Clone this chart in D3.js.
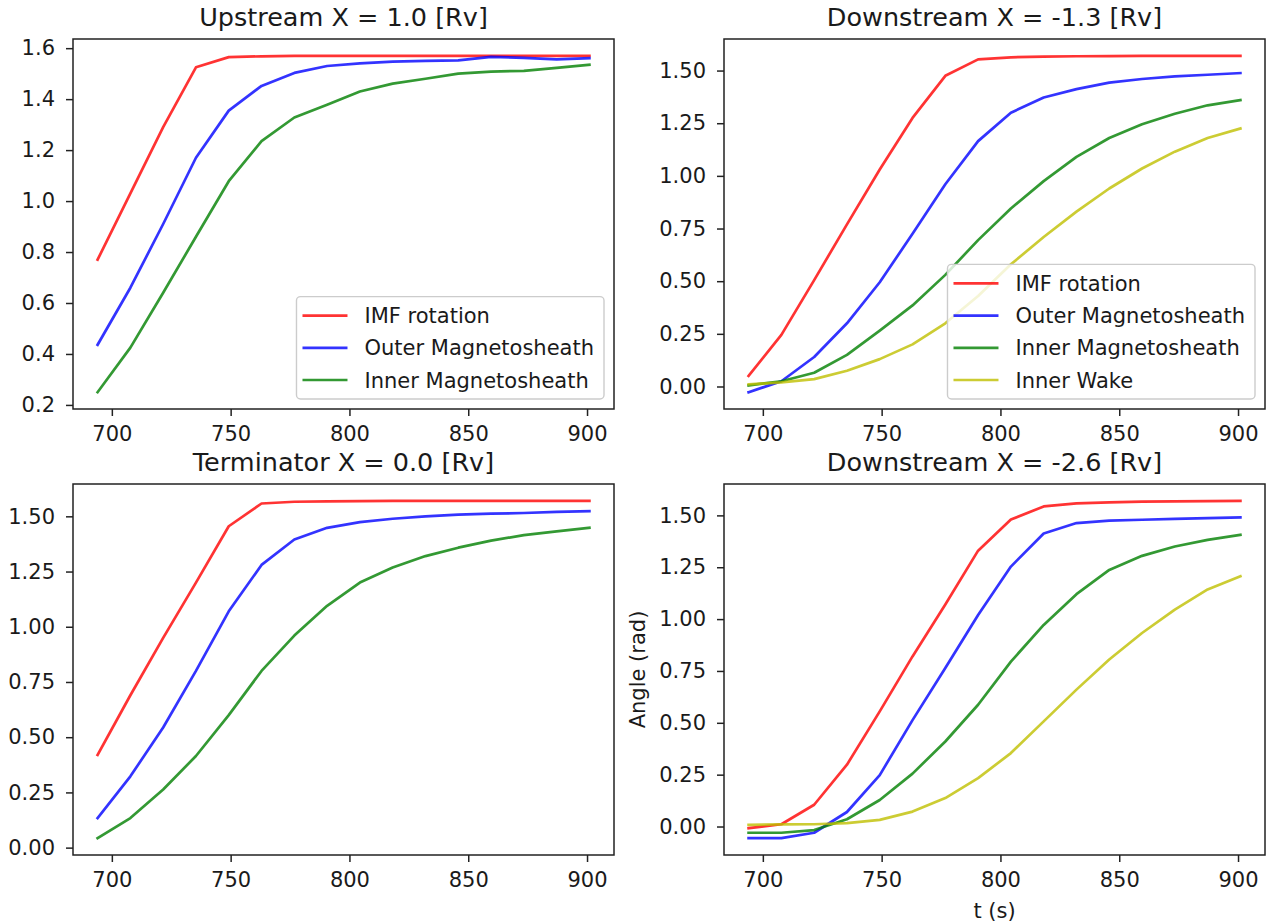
<!DOCTYPE html>
<html><head><meta charset="utf-8">
<script src="https://cdn.jsdelivr.net/npm/d3@7"></script>
<style>
body{margin:0;background:#fff}
svg{display:block}
text{font-family:"DejaVu Sans",sans-serif;fill:#1a1a1a}
</style>
</head><body>
<svg id="chart" width="1266" height="923"></svg>
<script>
// ---------------- data ----------------
const times = [694, 707.8, 721.6, 735.4, 749.2, 763, 776.8, 790.6, 804.4, 818.2, 832, 845.8, 859.6, 873.4, 887.2, 901];

const seriesNames = ["IMF rotation", "Outer Magnetosheath", "Inner Magnetosheath", "Inner Wake"];
const seriesColors = ["#ff0000", "#0000ff", "#008000", "#bfbf00"];

const panelTitles = ["Upstream X = 1.0 [Rv]", "Downstream X = -1.3 [Rv]", "Terminator X = 0.0 [Rv]", "Downstream X = -2.6 [Rv]"];

// Upstream X = 1.0
const upIMF   = [0.77, 1.03, 1.29, 1.525, 1.565, 1.568, 1.57, 1.57, 1.57, 1.57, 1.57, 1.57, 1.57, 1.57, 1.57, 1.57];
const upOuter = [0.436, 0.66, 0.91, 1.17, 1.355, 1.452, 1.503, 1.53, 1.54, 1.547, 1.55, 1.552, 1.566, 1.562, 1.556, 1.561];
const upInner = [0.25, 0.425, 0.64, 0.86, 1.078, 1.235, 1.328, 1.378, 1.43, 1.461, 1.48, 1.5, 1.508, 1.511, 1.523, 1.535];

// Downstream X = -1.3
const d1IMF   = [0.05, 0.245, 0.505, 0.77, 1.03, 1.275, 1.475, 1.553, 1.563, 1.566, 1.568, 1.569, 1.57, 1.57, 1.57, 1.57];
const d1Outer = [-0.027, 0.025, 0.14, 0.3, 0.495, 0.725, 0.96, 1.165, 1.3, 1.372, 1.412, 1.443, 1.46, 1.472, 1.48, 1.488];
const d1Inner = [0.005, 0.025, 0.065, 0.15, 0.265, 0.385, 0.53, 0.695, 0.845, 0.975, 1.09, 1.18, 1.245, 1.295, 1.335, 1.36];
const d1Wake  = [0.01, 0.02, 0.035, 0.075, 0.13, 0.2, 0.3, 0.43, 0.58, 0.71, 0.83, 0.94, 1.035, 1.115, 1.18, 1.225];

// Terminator X = 0.0
const tIMF   = [0.42, 0.69, 0.95, 1.2, 1.455, 1.558, 1.566, 1.568, 1.569, 1.57, 1.57, 1.57, 1.57, 1.57, 1.57, 1.57];
const tOuter = [0.134, 0.323, 0.544, 0.8, 1.07, 1.28, 1.395, 1.448, 1.474, 1.489, 1.5, 1.508, 1.512, 1.515, 1.52, 1.523];
const tInner = [0.043, 0.134, 0.263, 0.415, 0.6, 0.8, 0.96, 1.095, 1.2, 1.268, 1.32, 1.358, 1.39, 1.415, 1.432, 1.448];

// Downstream X = -2.6
const d2IMF   = [-0.008, 0.011, 0.105, 0.298, 0.555, 0.82, 1.07, 1.33, 1.48, 1.543, 1.558, 1.563, 1.566, 1.568, 1.569, 1.57];
const d2Outer = [-0.056, -0.056, -0.03, 0.07, 0.248, 0.513, 0.764, 1.02, 1.253, 1.413, 1.463, 1.475, 1.479, 1.483, 1.487, 1.49];
const d2Inner = [-0.03, -0.03, -0.017, 0.035, 0.128, 0.255, 0.41, 0.587, 0.795, 0.972, 1.12, 1.237, 1.305, 1.35, 1.382, 1.406];
const d2Wake  = [0.008, 0.01, 0.011, 0.016, 0.032, 0.072, 0.137, 0.233, 0.354, 0.507, 0.66, 0.805, 0.933, 1.046, 1.143, 1.207];

const xTickValues = [700, 750, 800, 850, 900];
const yTicksUpstream = [0.2, 0.4, 0.6, 0.8, 1.0, 1.2, 1.4, 1.6];
const yTicksOther = [0.0, 0.25, 0.5, 0.75, 1.0, 1.25, 1.5];

// ---------------- layout ----------------
const FS = 21, TFS = 25.5;
const panels = [
  {title: panelTitles[0], box: [73, 39, 614, 409], series: [upIMF, upOuter, upInner], yTicks: yTicksUpstream, fmt: d3.format(".1f"), legend: true},
  {title: panelTitles[1], box: [724, 39, 1265, 409], series: [d1IMF, d1Outer, d1Inner, d1Wake], yTicks: yTicksOther, fmt: d3.format(".2f"), legend: true},
  {title: panelTitles[2], box: [73, 484, 614, 855], series: [tIMF, tOuter, tInner], yTicks: yTicksOther, fmt: d3.format(".2f"), legend: false},
  {title: panelTitles[3], box: [724, 484, 1265, 855], series: [d2IMF, d2Outer, d2Inner, d2Wake], yTicks: yTicksOther, fmt: d3.format(".2f"), legend: false, xlabel: "t (s)", ylabel: "Angle (rad)"}
];

const svg = d3.select("#chart");

function padded(ext) {
  const m = (ext[1] - ext[0]) * 0.05;
  return [ext[0] - m, ext[1] + m];
}

panels.forEach((p, pi) => {
  const [x0, y0, x1, y1] = p.box;
  const x = d3.scaleLinear().domain(padded(d3.extent(times))).range([x0, x1]);
  const allVals = p.series.flat();
  const y = d3.scaleLinear().domain(padded(d3.extent(allVals))).range([y1, y0]);

  const g = svg.append("g");
  const clipId = "clip" + pi;
  svg.append("clipPath").attr("id", clipId).append("rect")
    .attr("x", x0).attr("y", y0).attr("width", x1 - x0).attr("height", y1 - y0);

  const line = d3.line().x((d, i) => x(times[i])).y(d => y(d));
  const lg = g.append("g").attr("clip-path", `url(#${clipId})`);
  p.series.forEach((vals, si) => {
    lg.append("path").datum(vals)
      .attr("d", line)
      .attr("fill", "none")
      .attr("stroke", seriesColors[si])
      .attr("stroke-opacity", 0.8)
      .attr("stroke-width", 2.7)
      .attr("stroke-linejoin", "round")
      .attr("stroke-linecap", "square");
  });

  // axes
  const xa = g.append("g").attr("transform", `translate(0,${y1})`)
    .call(d3.axisBottom(x).tickValues(xTickValues).tickSize(7).tickPadding(10.5).tickFormat(d3.format("d")));
  const ya = g.append("g").attr("transform", `translate(${x0},0)`)
    .call(d3.axisLeft(y).tickValues(p.yTicks).tickSize(7).tickPadding(11).tickFormat(p.fmt));
  [xa, ya].forEach(a => {
    a.select(".domain").remove();
    a.selectAll(".tick line").attr("stroke", "#222").attr("stroke-width", 1.5);
    a.selectAll(".tick text").attr("font-size", FS).attr("fill", "#222").style("font-family", '"DejaVu Sans",sans-serif');
  });

  // frame
  g.append("rect").attr("x", x0).attr("y", y0).attr("width", x1 - x0).attr("height", y1 - y0)
    .attr("fill", "none").attr("stroke", "#222").attr("stroke-width", 1.5);

  // title
  g.append("text").attr("x", (x0 + x1) / 2).attr("y", y0 - 12.6)
    .attr("text-anchor", "middle").attr("font-size", TFS).text(p.title);

  if (p.xlabel) {
    g.append("text").attr("x", (x0 + x1) / 2).attr("y", y1 + 63)
      .attr("text-anchor", "middle").attr("font-size", FS).text(p.xlabel);
  }
  if (p.ylabel) {
    g.append("text").attr("transform", `translate(${x0 - 79},${(y0 + y1) / 2}) rotate(-90)`)
      .attr("text-anchor", "middle").attr("font-size", FS).text(p.ylabel);
  }

  // legend
  if (p.legend) {
    const n = p.series.length;
    const lgG = g.append("g");
    const tmp = lgG.append("g");
    let maxW = 0;
    for (let i = 0; i < n; i++) {
      const t = tmp.append("text").attr("font-size", FS).text(seriesNames[i]);
      maxW = Math.max(maxW, t.node().getComputedTextLength());
    }
    tmp.remove();
    const bw = 68 + maxW + 10;
    const bh = 19 * 2 + (n - 1) * 32.2;
    const bx = x1 - 10 - bw, by = y1 - 10 - bh;
    lgG.append("rect").attr("x", bx).attr("y", by).attr("width", bw).attr("height", bh)
      .attr("rx", 4).attr("fill", "#fff").attr("fill-opacity", 0.8)
      .attr("stroke", "#cccccc").attr("stroke-width", 1.4);
    for (let i = 0; i < n; i++) {
      const cy = by + 19 + i * 32.2;
      lgG.append("line").attr("x1", bx + 6).attr("x2", bx + 51).attr("y1", cy).attr("y2", cy)
        .attr("stroke", seriesColors[i]).attr("stroke-opacity", 0.8).attr("stroke-width", 2.7);
      lgG.append("text").attr("x", bx + 68).attr("y", cy).attr("dy", "0.36em")
        .attr("font-size", FS).text(seriesNames[i]);
    }
  }
});
</script>
</body></html>
